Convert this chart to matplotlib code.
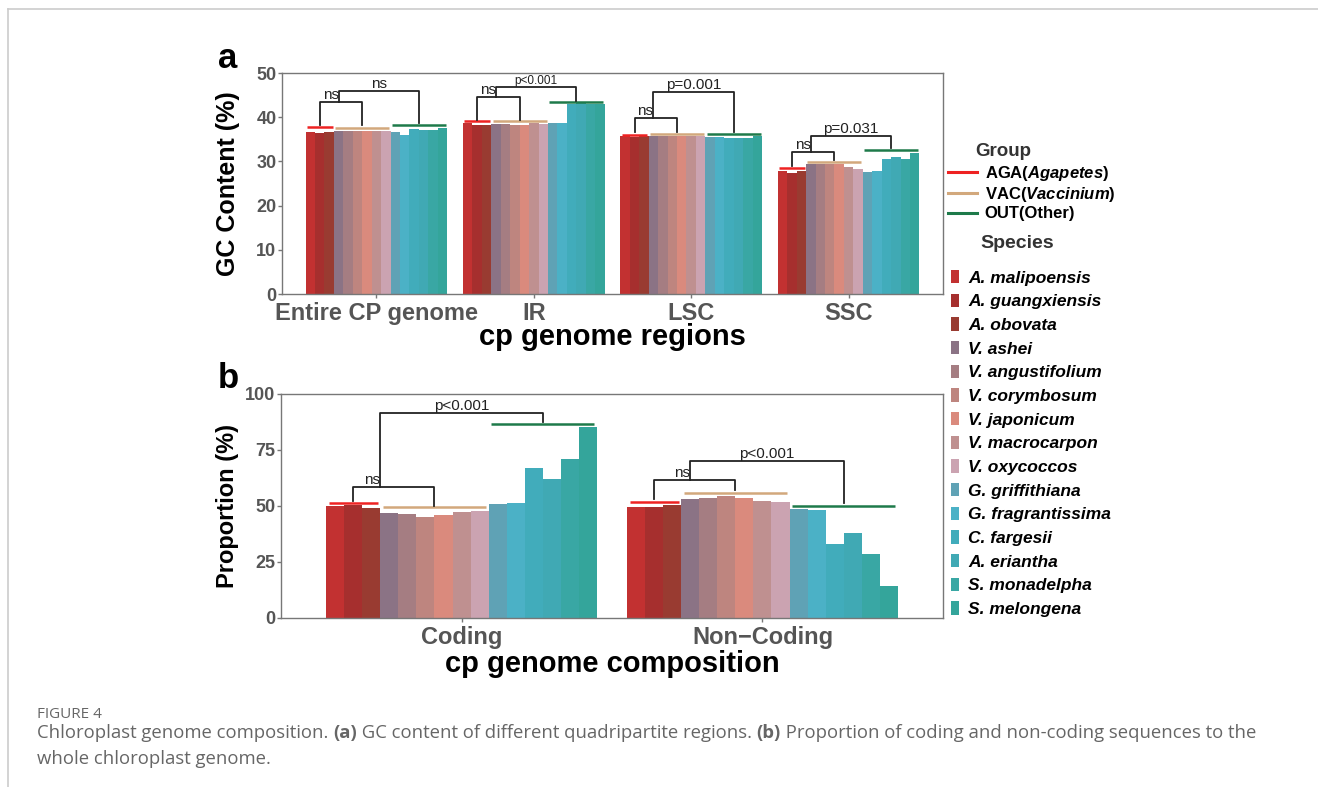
import numpy as np
import matplotlib
matplotlib.use('Agg')
import matplotlib.pyplot as plt
from matplotlib.patches import Patch
from matplotlib.lines import Line2D

plt.rcParams['font.family'] = ['Liberation Sans', 'DejaVu Sans']
plt.rcParams['mathtext.fontset'] = 'custom'
plt.rcParams['mathtext.rm'] = 'Liberation Sans:bold'
plt.rcParams['mathtext.bfit'] = 'Liberation Sans:italic:bold'

species = ['A. malipoensis', 'A. guangxiensis', 'A. obovata', 'V. ashei', 'V. angustifolium',
           'V. corymbosum', 'V. japonicum', 'V. macrocarpon', 'V. oxycoccos', 'G. griffithiana',
           'G. fragrantissima', 'C. fargesii', 'A. eriantha', 'S. monadelpha', 'S. melongena']
colors = ['#c23131', '#a62f2e', '#993b31', '#8b7385', '#a57d82', '#be857f', '#da8a7d',
          '#bf9090', '#cba3b1', '#5fa2b5', '#4bb1c6', '#41acbb', '#40a9b4', '#39a7a4', '#34a59b']

regions = ['Entire CP genome', 'IR', 'LSC', 'SSC']
gc_entire = [36.7, 36.5, 36.7, 36.9, 36.8, 36.8, 36.8, 36.8, 36.8, 36.6, 36.0, 37.3, 37.2, 37.2, 37.6]
gc_ir = [38.6, 38.2, 38.2, 38.5, 38.4, 38.2, 38.2, 38.7, 38.4, 38.6, 38.6, 42.9, 43.3, 42.9, 43.0]
gc_lsc = [35.8, 35.5, 35.7, 35.8, 35.8, 35.8, 35.7, 35.7, 35.7, 35.6, 35.5, 35.3, 35.3, 35.2, 35.8]
gc_ssc = [27.8, 27.3, 27.8, 29.3, 29.5, 29.3, 29.3, 28.7, 28.3, 27.7, 27.8, 30.6, 31.0, 30.5, 31.8]

parts = ['Coding', 'Non\u2212Coding']
coding = [50.0, 50.3, 49.0, 46.7, 46.3, 45.2, 45.8, 47.5, 47.8, 50.7, 51.3, 66.8, 61.9, 71.1, 85.1]
noncoding = [49.7, 49.4, 50.6, 53.0, 53.6, 54.5, 53.7, 52.1, 51.8, 48.8, 48.2, 32.9, 37.8, 28.6, 14.4]

# group lines (AGA, VAC, OUT) heights per category
groups = ['AGA', 'VAC', 'OUT']
group_labels = [r'AGA($\mathbfit{Agapetes}$)', r'VAC($\mathbfit{Vaccinium}$)', 'OUT(Other)']
group_colors = ['#ee2222', '#d2a87c', '#1e7a4a']
group_idx = [(0, 2), (3, 8), (9, 14)]
a_lines = [[37.7, 39.2, 36.0, 28.4], [37.6, 39.1, 36.2, 29.9], [38.2, 43.5, 36.3, 32.5]]
b_lines = [[51.5, 51.6], [49.6, 55.7], [86.5, 50.0]]

# significance brackets
a_b1_top = [43.5, 44.6, 39.8, 32.1]
a_b1_left = [38.2, 39.4, 36.6, 29.0]
a_b1_right = [38.2, 39.4, 36.6, 30.3]
a_b2_top = [45.9, 46.9, 45.6, 35.7]
a_b2_right = [38.8, 43.7, 36.6, 33.0]
a_b2_start = [3.0, 3.0, 3.0, 3.0]
a_p = ['ns', 'p<0.001', 'p=0.001', 'p=0.031']

b_b1_top = [58.3, 61.6]
b_b1_left = [52.4, 53.0]
b_b1_right = [50.0, 57.1]
b_b2_top = [91.4, 70.2]
b_b2_right = [87.6, 51.2]
b_b2_start = [2.5, 3.0]
b_p = ['p<0.001', 'p<0.001']

W, H = 1318, 787
fig = plt.figure(figsize=(W / 100, H / 100), dpi=100)
axa = fig.add_axes([282 / W, 1 - 294 / H, 661 / W, 221 / H])
axb = fig.add_axes([281 / W, 1 - 618 / H, 662 / W, 224 / H])

bw = 0.9 / 15


def xpos(g, i):
    return g - 0.45 + bw * (i + 0.5)


def draw(ax, data, lines, b1t, b1l, b1r, b2t, b2r, b2s, plabs, small):
    n = len(data)
    for g in range(n):
        xs = [xpos(g, i) for i in range(15)]
        ax.bar(xs, data[g], width=bw, color=colors, linewidth=0)
        for k in range(3):
            i0, i1 = group_idx[k]
            ax.plot([xpos(g, i0) - 0.35 * bw, xpos(g, i1) + 0.35 * bw], [lines[k][g]] * 2,
                    color=group_colors[k], lw=1.8, solid_capstyle='butt')
        xl, xr = xpos(g, 1), xpos(g, 5.5)
        ax.plot([xl, xl, xr, xr], [b1l[g], b1t[g], b1t[g], b1r[g]], color='#222222', lw=1.3)
        x2l, x2r = xpos(g, b2s[g]), xpos(g, 11.5)
        ax.plot([x2l, x2l, x2r, x2r], [b1t[g], b2t[g], b2t[g], b2r[g]], color='#222222', lw=1.3)
        ax.text(x2l, b1t[g], 'ns', ha='right', va='bottom', fontsize=11, color='#222222')
        fs = 8.5 if small[g] else 11
        ax.text((x2l + x2r) / 2, b2t[g], plabs[g], ha='center', va='bottom', fontsize=fs,
                color='#222222')


def style(ax):
    for s in ax.spines.values():
        s.set_color('#777777')
        s.set_linewidth(1.0)
    ax.tick_params(axis='both', colors='#777777', length=3, width=1)
    for lab in ax.get_xticklabels() + ax.get_yticklabels():
        lab.set_color('#555555')
        lab.set_fontweight('bold')


draw(axa, [gc_entire, gc_ir, gc_lsc, gc_ssc], a_lines, a_b1_top, a_b1_left, a_b1_right,
     a_b2_top, a_b2_right, a_b2_start, a_p, [False, True, False, False])
axa.set_xlim(-0.6, 3.6)
axa.set_ylim(0, 50)
axa.set_yticks([0, 10, 20, 30, 40, 50])
axa.set_xticks(range(4))
axa.set_xticklabels(regions, fontsize=17)
axa.tick_params(axis='y', labelsize=13, pad=1)
axa.tick_params(axis='x', pad=3)
style(axa)
axa.set_ylabel('GC Content (%)', fontsize=18, fontweight='bold')
axa.yaxis.set_label_coords(-0.064, 0.5)
axa.set_xlabel('cp genome regions', fontsize=21, fontweight='bold')
axa.xaxis.set_label_coords(0.5, -0.13)

draw(axb, [coding, noncoding], b_lines, b_b1_top, b_b1_left, b_b1_right,
     b_b2_top, b_b2_right, b_b2_start, b_p, [False, False])
axb.set_xlim(-0.6, 1.6)
axb.set_ylim(0, 100)
axb.set_yticks([0, 25, 50, 75, 100])
axb.set_xticks(range(2))
axb.set_xticklabels(parts, fontsize=17)
axb.tick_params(axis='y', labelsize=13, pad=1)
axb.tick_params(axis='x', pad=3)
style(axb)
axb.set_ylabel('Proportion (%)', fontsize=17, fontweight='bold')
axb.yaxis.set_label_coords(-0.063, 0.5)
axb.set_xlabel('cp genome composition', fontsize=21, fontweight='bold')
axb.xaxis.set_label_coords(0.5, -0.145)

fig.text(218 / W, 1 - 68 / H, 'a', fontsize=25, fontweight='bold', va='baseline')
fig.text(218 / W, 1 - 388 / H, 'b', fontsize=25, fontweight='bold', va='baseline')

# legends
fig.text(975 / W, 1 - 152 / H, 'Group', fontsize=13.5, fontweight='bold', color='#333333',
         va='center')
gh = [Line2D([], [], color=c, lw=2.2) for c in group_colors]
fig.legend(gh, group_labels, loc='upper left', bbox_to_anchor=(948 / W, 1 - 164 / H),
           frameon=False, handlelength=1.75, handletextpad=0.45, labelspacing=0.13,
           borderpad=0, borderaxespad=0,
           prop={'size': 12, 'weight': 'bold'})
fig.text(980 / W, 1 - 244 / H, 'Species', fontsize=14, fontweight='bold', color='#333333',
         va='center')
sh = [Patch(facecolor=c, edgecolor='none') for c in colors]
fig.legend(sh, species, loc='upper left', bbox_to_anchor=(951 / W, 1 - 270 / H),
           frameon=False, handlelength=0.45, handleheight=0.8, handletextpad=0.55,
           labelspacing=0.46, borderpad=0, borderaxespad=0,
           prop={'size': 12.5, 'weight': 'bold', 'style': 'italic'})

# page frame and caption
fig.add_artist(Line2D([8 / W, 1], [1 - 9 / H] * 2, color='#cccccc', lw=1.2))
fig.add_artist(Line2D([8 / W] * 2, [0, 1 - 9 / H], color='#cccccc', lw=1.2))

cap = dict(family=['Open Sans', 'DejaVu Sans'], color='#666666', fontsize=13.3, va='bottom')
fig.text(37 / W, 1 - 722 / H, 'FIGURE 4', family=['Open Sans', 'DejaVu Sans'], color='#666666',
         fontsize=11, va='bottom')
t = fig.text(37 / W, 1 - 742 / H, 'Chloroplast genome composition. ', **cap)
for s, w in [('(a)', 'bold'), (' GC content of different quadripartite regions. ', 'normal'),
             ('(b)', 'bold'), (' Proportion of coding and non-coding sequences to the', 'normal')]:
    t = fig.add_artist(plt.Annotation(s, xy=(1, 0), xycoords=t, fontweight=w,
                                      annotation_clip=False, **cap))
fig.text(37 / W, 1 - 768 / H, 'whole chloroplast genome.', **cap)

fig.savefig('out.png', dpi=100)
